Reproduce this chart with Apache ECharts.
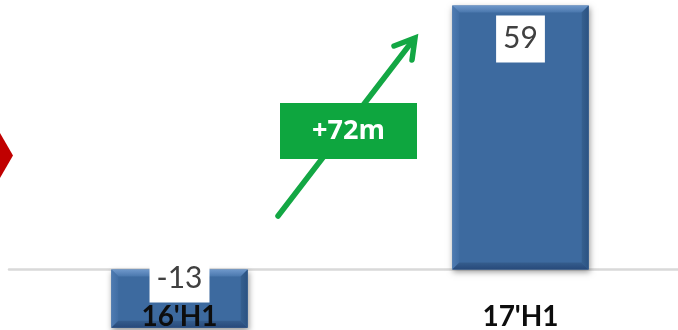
<!DOCTYPE html>
<html>
<head>
<meta charset="utf-8">
<script src="https://cdn.jsdelivr.net/npm/echarts@6/dist/echarts.min.js"></script>
<style>
  html, body { margin: 0; padding: 0; background: #ffffff; }
  #chart { width: 678px; height: 330px; }
</style>
</head>
<body>
<div id="chart"></div>
<script>
// Half-year result (m), first half of each year
const categories = ["16'H1", "17'H1"];
const values = [-13, 59];
const changeLabel = '+72m';

const FONT = 'Lato, "Open Sans", sans-serif';

// Bevelled bar drawn through the category / value scales,
// with its value box and category name
function renderBar(params, api) {
  const idx = api.value(0);
  const v = api.value(1);
  const pZero = api.coord([idx, 0]);
  const pVal = api.coord([idx, v]);
  const bw = api.size([1, 0])[0] * 0.4;
  const x0 = pZero[0] - bw / 2;
  const x1 = pZero[0] + bw / 2;
  const y0 = Math.min(pZero[1], pVal[1]);
  const y1 = Math.max(pZero[1], pVal[1]);
  const b = 7;

  const children = [
    {
      type: 'rect',
      shape: { x: x0, y: y0, width: x1 - x0, height: y1 - y0 },
      style: {
        fill: '#3d6a9f',
        shadowBlur: 6, shadowOffsetY: 3, shadowOffsetX: 1,
        shadowColor: 'rgba(0,0,0,0.4)'
      }
    },
    { // top bevel
      type: 'polygon',
      shape: { points: [[x0, y0], [x1, y0], [x1 - b, y0 + b], [x0 + b, y0 + b]] },
      style: {
        fill: new echarts.graphic.LinearGradient(0, 0, 0, 1, [
          { offset: 0, color: '#6f98cb' }, { offset: 1, color: '#4a77ad' }
        ])
      }
    },
    { // left bevel
      type: 'polygon',
      shape: { points: [[x0, y0], [x0 + b, y0 + b], [x0 + b, y1 - b], [x0, y1]] },
      style: {
        fill: new echarts.graphic.LinearGradient(0, 0, 1, 0, [
          { offset: 0, color: '#4e7bb2' }, { offset: 1, color: '#416ea4' }
        ])
      }
    },
    { // right bevel
      type: 'polygon',
      shape: { points: [[x1, y0], [x1 - b, y0 + b], [x1 - b, y1 - b], [x1, y1]] },
      style: {
        fill: new echarts.graphic.LinearGradient(0, 0, 1, 0, [
          { offset: 0, color: '#36608f' }, { offset: 1, color: '#2b5282' }
        ])
      }
    },
    { // bottom bevel
      type: 'polygon',
      shape: { points: [[x0, y1], [x1, y1], [x1 - b, y1 - b], [x0 + b, y1 - b]] },
      style: {
        fill: new echarts.graphic.LinearGradient(0, 0, 0, 1, [
          { offset: 0, color: '#355d8d' }, { offset: 1, color: '#27497a' }
        ])
      }
    }
  ];

  // value label on a white box
  const labelY = v >= 0 ? y0 + 10 : pZero[1] - 14;
  children.push({
    type: 'text',
    x: pZero[0],
    y: labelY,
    z2: 10,
    style: {
      text: String(v),
      font: '30px ' + FONT,
      fill: '#404040',
      backgroundColor: '#ffffff',
      padding: [8, 7, 9, 7],
      align: 'center',
      verticalAlign: 'top'
    }
  });

  // category name below the baseline
  children.push({
    type: 'text',
    x: pZero[0],
    y: pZero[1] + 47,
    z2: 11,
    style: {
      text: categories[idx],
      font: 'bold 28px ' + FONT,
      fill: '#0d0d0d',
      align: 'center',
      verticalAlign: 'middle'
    }
  });

  return { type: 'group', children: children };
}

const chart = echarts.init(document.getElementById('chart'), null, { renderer: 'canvas' });

const seriesData = categories.map((c, i) => [i, values[i]]);

chart.setOption({
  animation: false,
  backgroundColor: '#ffffff',
  grid: {
    left: 9, top: 0, width: 682, height: 330,
    containLabel: false,
    outerBoundsMode: 'none'
  },
  xAxis: {
    type: 'category',
    data: categories,
    axisLine: { onZero: true, lineStyle: { color: '#d9d9d9', width: 2.5 } },
    axisTick: { show: false },
    axisLabel: { show: false }
  },
  yAxis: {
    type: 'value',
    min: -13.52,
    max: 60.22,
    show: false,
    splitLine: { show: false }
  },
  series: [{
    type: 'custom',
    renderItem: renderBar,
    encode: { x: 0, y: 1 },
    data: seriesData,
    z: 2
  }],
  graphic: [
    { // partial red chevron at the left edge
      type: 'polygon',
      shape: { points: [[0, 133], [13, 155.5], [0, 178]] },
      style: { fill: '#c00000' },
      z: 5
    },
    { // growth arrow
      type: 'polyline',
      shape: { points: [[278, 216], [414, 39]] },
      style: { stroke: '#13a744', lineWidth: 5.5, lineCap: 'round' },
      z: 5
    },
    {
      type: 'polyline',
      shape: { points: [[394, 46], [415, 38], [412, 60]] },
      style: { stroke: '#13a744', lineWidth: 5.5, lineCap: 'round', lineJoin: 'miter', fill: null },
      z: 5
    },
    { // change call-out
      type: 'rect',
      shape: { x: 280, y: 103, width: 137, height: 56 },
      style: { fill: '#0ea63f' },
      z: 20
    },
    {
      type: 'text',
      x: 348.5,
      y: 131,
      z: 21,
      style: {
        text: changeLabel,
        font: 'bold 27px "Open Sans", sans-serif',
        fill: '#ffffff',
        align: 'center',
        verticalAlign: 'middle'
      }
    }
  ]
});
</script>
</body>
</html>
